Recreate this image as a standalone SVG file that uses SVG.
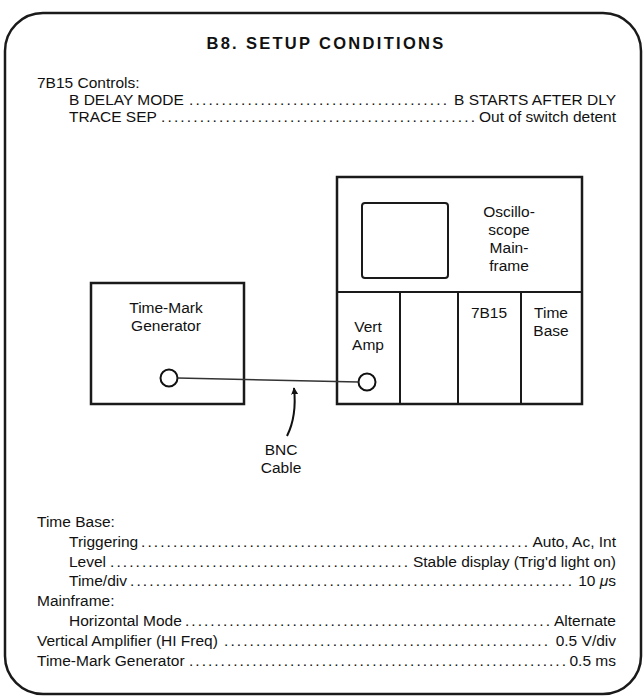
<svg xmlns="http://www.w3.org/2000/svg" width="644" height="696" viewBox="0 0 644 696">
<style>
text{font-family:"Liberation Sans",Arial,sans-serif;font-size:15.5px;fill:#111}
.title{font-weight:bold;font-size:16.5px;letter-spacing:2.3px}
.mid{text-anchor:middle}
.end{text-anchor:end}
.box{fill:none;stroke:#1a1a1a;stroke-width:2.5}
.thin{fill:none;stroke:#1a1a1a;stroke-width:2}
.cable{fill:none;stroke:#333;stroke-width:1.6}
.jack{fill:#fff;stroke:#111;stroke-width:2}
</style>
<defs>
<marker id="ah" viewBox="0 0 10 10" refX="9" refY="5" markerWidth="7" markerHeight="7" orient="auto" markerUnits="userSpaceOnUse">
<path d="M0,0 L10,5 L0,10 Z" fill="#111"/>
</marker>
</defs>
<rect width="644" height="696" fill="#fff"/>
<g id="frame">
<path class="box" d="M43,13 H603 A38,38 0 0 1 641,51 V656 A38,38 0 0 1 603,694 H43 A38,38 0 0 1 5,656 V51 A38,38 0 0 1 43,13 Z"/>
</g>
<g id="header">
<text class="title mid" x="326" y="49">B8. SETUP CONDITIONS</text>
<text x="37" y="88">7B15 Controls:</text>
<text x="69" y="105">B DELAY MODE</text>
<text x="189" y="105" textLength="258" lengthAdjust="spacing">........................................</text>
<text class="end" x="616" y="105">B STARTS AFTER DLY</text>
<text x="69" y="122">TRACE SEP</text>
<text x="161" y="122" textLength="314" lengthAdjust="spacing">.................................................</text>
<text class="end" x="616" y="122">Out of switch detent</text>
</g>
<g id="mainframe">
<rect class="box" x="337" y="177" width="245" height="227"/>
<rect class="thin" x="362" y="203" width="86" height="75" rx="3"/>
<line class="thin" x1="337" y1="292" x2="582" y2="292"/>
<line class="thin" x1="400" y1="292" x2="400" y2="404"/>
<line class="thin" x1="458" y1="292" x2="458" y2="404"/>
<line class="thin" x1="521" y1="292" x2="521" y2="404"/>
<text class="mid" x="509" y="217">Oscillo-</text>
<text class="mid" x="509" y="235">scope</text>
<text class="mid" x="509" y="253">Main-</text>
<text class="mid" x="509" y="271">frame</text>
<text class="mid" x="368" y="332">Vert</text>
<text class="mid" x="368" y="350">Amp</text>
<text class="mid" x="489" y="318">7B15</text>
<text class="mid" x="551" y="318">Time</text>
<text class="mid" x="551" y="336">Base</text>
<circle class="jack" cx="367" cy="382" r="8.5"/>
</g>
<g id="generator">
<rect class="box" x="91" y="283" width="153" height="121"/>
<text class="mid" x="166" y="313">Time-Mark</text>
<text class="mid" x="166" y="331">Generator</text>
<circle class="jack" cx="169" cy="378" r="8.5"/>
</g>
<g id="connectors">
<line class="cable" x1="177.5" y1="378" x2="358.5" y2="382"/>
<path d="M287,436 Q297,416 294,388" fill="none" stroke="#111" stroke-width="2" marker-end="url(#ah)"/>
</g>
<g id="cable-label">
<text class="mid" x="281" y="455">BNC</text>
<text class="mid" x="281" y="473">Cable</text>
</g>
<g id="settings">
<text x="37" y="527">Time Base:</text>
<text x="69" y="547">Triggering</text>
<text x="141" y="547" textLength="387" lengthAdjust="spacing">.............................................................</text>
<text class="end" x="616" y="547">Auto, Ac, Int</text>
<text x="69" y="567">Level</text>
<text x="110" y="567" textLength="298" lengthAdjust="spacing">...............................................</text>
<text class="end" x="616" y="567">Stable display (Trig'd light on)</text>
<text x="69" y="586">Time/div</text>
<text x="130" y="586" textLength="442" lengthAdjust="spacing">.....................................................................</text>
<text class="end" x="616" y="586">10 <tspan font-style="italic">μ</tspan>s</text>
<text x="37" y="606">Mainframe:</text>
<text x="69" y="626">Horizontal Mode</text>
<text x="185" y="626" textLength="365" lengthAdjust="spacing">..........................................................</text>
<text class="end" x="616" y="626">Alternate</text>
<text x="37" y="646">Vertical Amplifier (HI Freq)</text>
<text x="224" y="646" textLength="324" lengthAdjust="spacing">...................................................</text>
<text class="end" x="616" y="646">0.5 V/div</text>
<text x="37" y="666">Time-Mark Generator</text>
<text x="189" y="666" textLength="377" lengthAdjust="spacing">............................................................</text>
<text class="end" x="616" y="666">0.5 ms</text>
</g>
</svg>
